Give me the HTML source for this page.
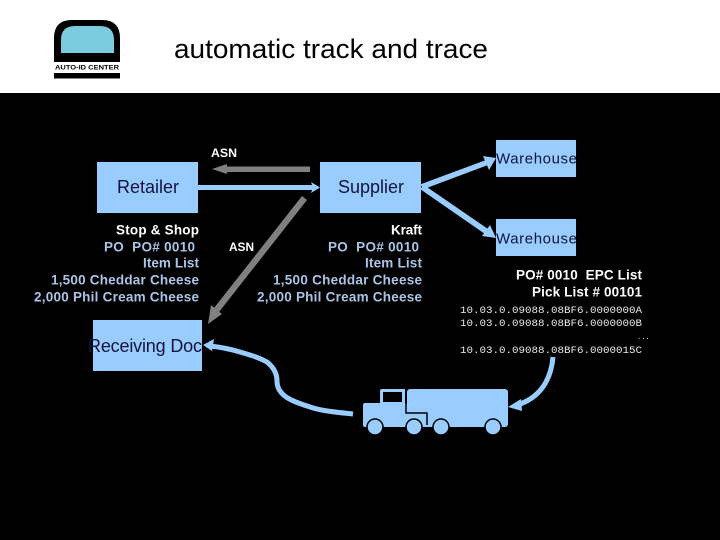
<!DOCTYPE html>
<html>
<head>
<meta charset="utf-8">
<style>
html,body{margin:0;padding:0;background:#000;width:720px;height:540px;overflow:hidden}
svg{display:block}
text{font-family:"Liberation Sans",sans-serif}
.b{font-weight:bold;font-size:13.5px}
.w{fill:#fff}
.l{fill:#a9c4e6}
.box{fill:#99ccff}
.t{fill:#14143c;font-size:18px}
.m{font-family:"Liberation Mono",monospace;font-size:10.5px;fill:#e8e8e8}
</style>
</head>
<body>
<svg width="720" height="540" viewBox="0 0 720 540" xmlns="http://www.w3.org/2000/svg">
<rect width="720" height="540" fill="#000"/>
<rect width="720" height="93" fill="#fff"/>

<!-- logo -->
<path d="M54 62V38Q54 20 72 20H102Q120 20 120 38V62Z" fill="#000"/>
<path d="M61 53V40Q61 26 75 26H100Q114 26 114 40V53Z" fill="#7cccdf"/>
<rect x="54" y="73" width="66" height="5.5" fill="#000"/>
<text x="55" y="69.500" font-size="6.5" font-weight="bold" fill="#000" textLength="64" lengthAdjust="spacingAndGlyphs">AUTO-ID CENTER</text>

<text x="174" y="58" font-size="27" fill="#000" textLength="314" lengthAdjust="spacingAndGlyphs">automatic track and trace</text>

<!-- boxes -->
<rect class="box" x="97" y="162" width="101" height="51"/>
<rect class="box" x="320" y="162" width="101" height="51"/>
<rect class="box" x="496" y="140" width="80" height="37"/>
<rect class="box" x="496" y="219" width="80" height="37"/>
<rect class="box" x="93" y="320" width="109" height="51"/>

<text class="t" x="117" y="193" textLength="62">Retailer</text>
<text class="t" x="338" y="193" textLength="66">Supplier</text>
<text x="496" y="163.500" font-size="15" fill="#14143c" textLength="81">Warehouse</text>
<text x="496" y="243.500" font-size="15" fill="#14143c" textLength="81">Warehouse</text>
<text class="t" x="88" y="352" textLength="114">Receiving Doc</text>

<!-- blue straight connectors -->
<rect x="198" y="185" width="115" height="5" fill="#99ccff"/>
<path d="M320 187.500L311 182L313 187.500L311 193Z" fill="#99ccff"/>
<path d="M420 184.500L486 160L488 165L424 189Z" fill="#99ccff"/>
<path d="M496 158L483 156L489 170Z" fill="#99ccff"/>
<path d="M424 185L488 229L485 234L420 189Z" fill="#99ccff"/>
<path d="M496 238L482 236L490 225Z" fill="#99ccff"/>

<!-- grey arrows -->
<rect x="226" y="166.500" width="84" height="5.500" fill="#808080"/>
<path d="M212 169L227 164V174Z" fill="#808080"/>
<path d="M302 196L307 200L219 312L214 308Z" fill="#808080"/>
<path d="M208 324L211 305L222 314Z" fill="#808080"/>

<!-- curved connectors -->
<path d="M353 414C335 412 322 411 310 407C295 402 277 397 277 381C277 372 272 366 267 362C258 357 250 355 240 352C230 349 220 347 210 346" fill="none" stroke="#99ccff" stroke-width="5"/>
<path d="M203 345L214 339L212 351Z" fill="#99ccff"/>
<path d="M553 357C551 380 540 398 517 405" fill="none" stroke="#99ccff" stroke-width="5"/>
<path d="M508 407L521 399L522 411Z" fill="#99ccff"/>

<!-- labels -->
<text x="211" y="157" font-size="11.500" font-weight="bold" fill="#fff" textLength="26" lengthAdjust="spacingAndGlyphs">ASN</text>
<text x="229" y="251" font-size="11.500" font-weight="bold" fill="#fff" textLength="25" lengthAdjust="spacingAndGlyphs">ASN</text>

<text class="b w" x="116" y="234.500" textLength="83">Stop &amp; Shop</text>
<text class="b l" x="104" y="251.500" textLength="91">PO&#160; PO# 0010</text>
<text class="b l" x="143" y="267.500" textLength="56">Item List</text>
<text class="b l" x="51" y="284.500" textLength="148">1,500 Cheddar Cheese</text>
<text class="b l" x="34" y="301.500" textLength="165">2,000 Phil Cream Cheese</text>

<text class="b w" x="391" y="234.500" textLength="31">Kraft</text>
<text class="b l" x="328" y="251.500" textLength="91">PO&#160; PO# 0010</text>
<text class="b l" x="365" y="267.500" textLength="57">Item List</text>
<text class="b l" x="273" y="284.500" textLength="149">1,500 Cheddar Cheese</text>
<text class="b l" x="257" y="301.500" textLength="165">2,000 Phil Cream Cheese</text>

<text class="b w" x="516" y="279.500" textLength="126">PO# 0010&#160; EPC List</text>
<text class="b w" x="532" y="296.500" textLength="110">Pick List # 00101</text>

<text class="m" x="460" y="313" textLength="182" lengthAdjust="spacingAndGlyphs">10.03.0.09088.08BF6.0000000A</text>
<text class="m" x="460" y="326" textLength="182" lengthAdjust="spacingAndGlyphs">10.03.0.09088.08BF6.0000000B</text>
<text class="m" x="637" y="339" style="font-size:7px">...</text>
<text class="m" x="460" y="353" textLength="182" lengthAdjust="spacingAndGlyphs">10.03.0.09088.08BF6.0000015C</text>

<!-- truck -->
<rect x="407" y="389" width="101" height="38" rx="3" fill="#99ccff"/>
<path d="M363 405Q363 403 365 403H380V391Q380 389 382 389H405V427H365Q363 427 363 425Z" fill="#99ccff"/>
<path d="M405 403V427H427V413Z" fill="#99ccff"/>
<rect x="383" y="392" width="19" height="10" fill="#000"/>
<path d="M406 389V413H427V425" fill="none" stroke="#000" stroke-width="1.500"/>
<g fill="#99ccff" stroke="#000" stroke-width="1.500">
<circle cx="375" cy="427" r="8"/>
<circle cx="414" cy="427" r="8"/>
<circle cx="441" cy="427" r="8"/>
<circle cx="493" cy="427" r="8"/>
</g>
</svg>
</body>
</html>
